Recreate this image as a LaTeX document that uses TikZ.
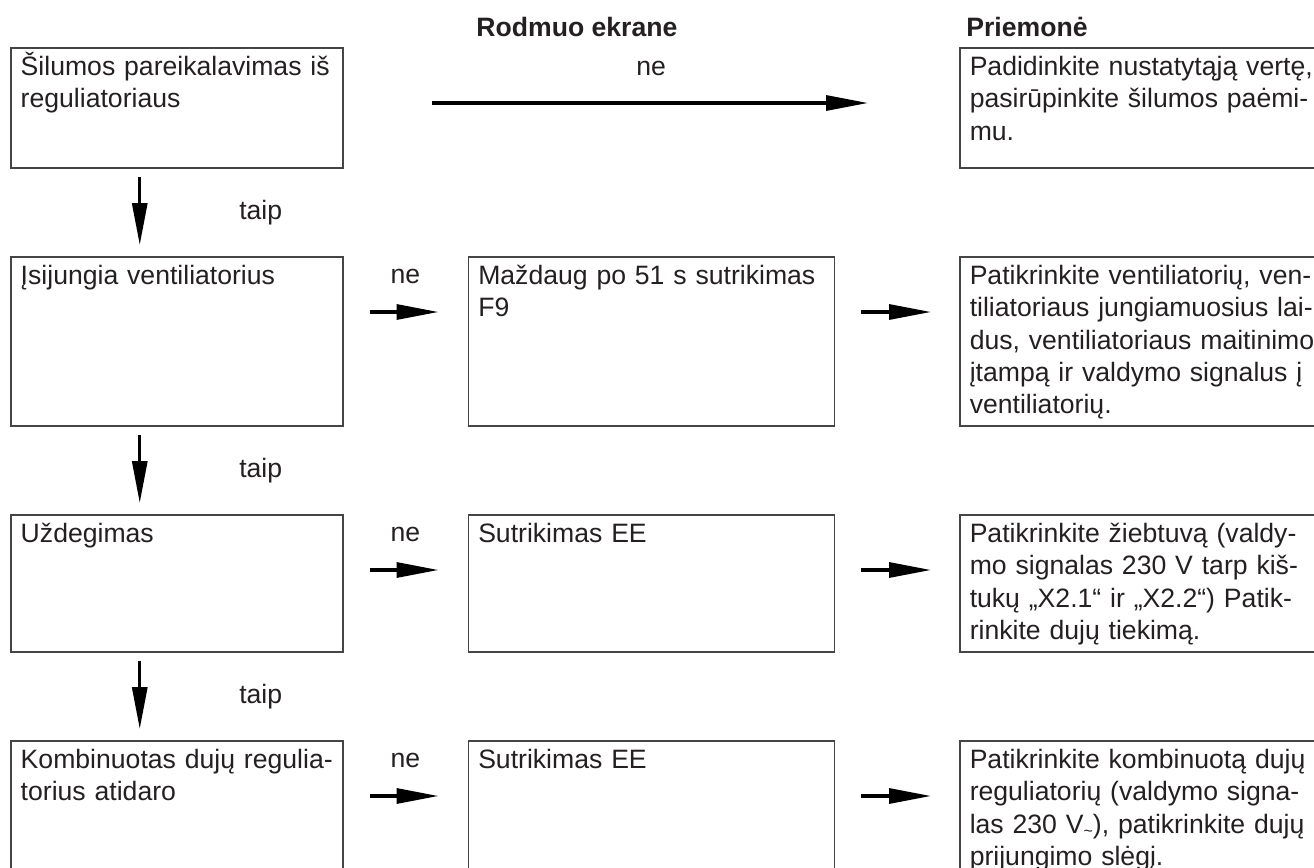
\documentclass[tikz,border=0pt]{standalone}
\usepackage{fontspec}
\setmainfont{Liberation Sans}
\usepackage{tikz}
\usetikzlibrary{positioning}
\usetikzlibrary{arrows.meta}
\definecolor{boxBorder}{rgb}{0.27,0.27,0.27}
\definecolor{boxText}{rgb}{0.14,0.12,0.13}
\tikzstyle{cell} = [draw=boxBorder, line width=0.75pt, anchor=north west, align=left,
        inner xsep=5pt, inner ysep=2.5pt, text height=11.5pt, text=boxText,
        font={\fontsize{13.3pt}{16.1pt}\selectfont}]
\tikzstyle{colA} = [cell, text width=156pt]
\tikzstyle{colB} = [cell, text width=173pt]
\tikzstyle{colC} = [cell, text width=176pt]
\tikzstyle{row1} = [text depth=43.5pt]
\tikzstyle{row2} = [text depth=68pt]
\tikzstyle{row3} = [text depth=52pt]
\tikzstyle{row4} = [text depth=80pt]
\tikzstyle{flow} = [-{Triangle[length=21pt,width=7.5pt]}, line width=1.6pt]
\tikzstyle{answer} = [text=boxText, font={\fontsize{13.3pt}{16.1pt}\selectfont}]
\tikzstyle{head} = [answer, font={\fontsize{13.3pt}{16.1pt}\selectfont\bfseries}, anchor=base west, inner sep=0pt]
\newcommand{\acsign}{{\footnotesize\raisebox{-0.35ex}{\textasciitilde}}}

\begin{document}
\begin{tikzpicture}[x=0.5pt, y=-0.5pt, node distance=43.75pt and 62pt]
    \useasboundingbox (0,0) rectangle (1314,868);

    \node [colA, row1] (demand) at (10,47) {Šilumos pareikalavimas iš\\reguliatoriaus};
    \node [colA, row2, below=of demand] (fan) {Įsijungia ventiliatorius};
    \node [colA, row3, below=of fan] (ignition) {Uždegimas};
    \node [colA, row4, below=of ignition] (gasvalve) {Kombinuotas dujų regulia-\\torius atidaro};

    \node [colB, row2, right=of fan] (fanshow) {Maždaug po 51 s sutrikimas\\F9};
    \node [colB, row3, right=of ignition] (ignshow) {Sutrikimas EE};
    \node [colB, row4, right=of gasvalve] (valveshow) {Sutrikimas EE};

    \node [colC, row2, right=of fanshow] (fanfix) {Patikrinkite ventiliatorių, ven-\\tiliatoriaus jungiamuosius lai-\\dus, ventiliatoriaus maitinimo\\įtampą ir valdymo signalus į\\ventiliatorių.};
    \node [colC, row1, above=of fanfix] (demandfix) {Padidinkite nustatytąją vertę,\\pasirūpinkite šilumos paėmi-\\mu.};
    \node [colC, row3, right=of ignshow] (ignfix) {Patikrinkite žiebtuvą (valdy-\\mo signalas 230 V tarp kiš-\\tukų „X2.1“ ir „X2.2“) Patik-\\rinkite dujų tiekimą.};
    \node [colC, row4, right=of valveshow] (valvefix) {Patikrinkite kombinuotą dujų\\reguliatorių (valdymo signa-\\las 230 V\acsign), patikrinkite dujų\\prijungimo slėgį.};

    \node [head] (display) at (476,36) {Rodmuo ekrane};
    \node [head] (remedy) at (966,36) {Priemonė};

    \draw [flow, shorten <=44pt, shorten >=45.5pt] ([yshift=-28pt]demand.north east) -- node [answer, yshift=17.5pt] {ne} ([yshift=-28pt]demandfix.north west);

    \draw [flow, shorten <=4pt, shorten >=5.5pt] ([xshift=-18.5pt]demand.south) -- node [answer, xshift=60.5pt] {taip} ([xshift=-18.5pt]fan.north);
    \draw [flow, shorten <=4pt, shorten >=5.5pt] ([xshift=-18.5pt]fan.south) -- node [answer, xshift=60.5pt] {taip} ([xshift=-18.5pt]ignition.north);
    \draw [flow, shorten <=4pt, shorten >=5.5pt] ([xshift=-18.5pt]ignition.south) -- node [answer, xshift=60.5pt] {taip} ([xshift=-18.5pt]gasvalve.north);

    \draw [flow, shorten <=13pt, shorten >=14.5pt] ([yshift=-28pt]fan.north east) -- node [answer, yshift=18pt] {ne} ([yshift=-28pt]fanshow.north west);
    \draw [flow, shorten <=13pt, shorten >=14.5pt] ([yshift=-28pt]ignition.north east) -- node [answer, yshift=18pt] {ne} ([yshift=-28pt]ignshow.north west);
    \draw [flow, shorten <=13pt, shorten >=14.5pt] ([yshift=-28pt]gasvalve.north east) -- node [answer, yshift=18pt] {ne} ([yshift=-28pt]valveshow.north west);

    \draw [flow, shorten <=13pt, shorten >=14pt] ([yshift=-28pt]fanshow.north east) -- ([yshift=-28pt]fanfix.north west);
    \draw [flow, shorten <=13pt, shorten >=14pt] ([yshift=-28pt]ignshow.north east) -- ([yshift=-28pt]ignfix.north west);
    \draw [flow, shorten <=13pt, shorten >=14pt] ([yshift=-28pt]valveshow.north east) -- ([yshift=-28pt]valvefix.north west);
\end{tikzpicture}
\end{document}
